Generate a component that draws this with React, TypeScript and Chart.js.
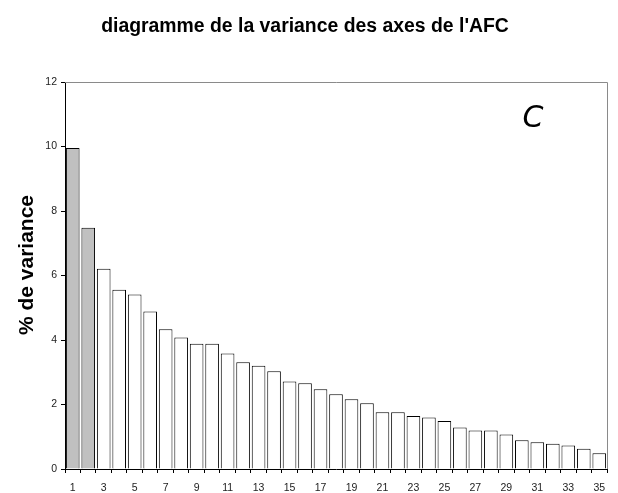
import React, { useEffect, useRef } from 'react';
import { Chart, registerables } from 'chart.js';

Chart.register(...registerables);

const axesLabels = [
  '1', '2', '3', '4', '5', '6', '7', '8', '9', '10',
  '11', '12', '13', '14', '15', '16', '17', '18', '19', '20',
  '21', '22', '23', '24', '25', '26', '27', '28', '29', '30',
  '31', '32', '33', '34', '35',
];

const varianceValues = [
  9.95, 7.48, 6.21, 5.56, 5.41, 4.88, 4.33, 4.08, 3.88, 3.88,
  3.58, 3.31, 3.2, 3.03, 2.71, 2.66, 2.47, 2.32, 2.16, 2.04,
  1.76, 1.76, 1.64, 1.6, 1.49, 1.29, 1.19, 1.19, 1.07, 0.89,
  0.83, 0.78, 0.73, 0.63, 0.49,
];

const retainedAxes = [true, true];

const chartTitle = "diagramme de la variance des axes de l'AFC";
const yAxisTitle = '% de variance';
const panelLetter = 'C';

const decorPlugin = {
  id: 'decor',
  beforeDatasetsDraw(chart: any) {
    const { ctx, chartArea: a } = chart;
    ctx.save();
    ctx.strokeStyle = '#8a8a8a';
    ctx.lineWidth = 1;
    ctx.beginPath();
    ctx.moveTo(a.left, Math.round(a.top) + 0.5);
    ctx.lineTo(Math.round(a.right) + 0.5, Math.round(a.top) + 0.5);
    ctx.lineTo(Math.round(a.right) + 0.5, a.bottom);
    ctx.stroke();
    ctx.restore();
  },
  afterDraw(chart: any) {
    const { ctx } = chart;
    ctx.save();
    ctx.fillStyle = '#000';
    ctx.textAlign = 'center';
    ctx.textBaseline = 'alphabetic';
    ctx.font = 'bold 19.4px "Liberation Sans", Arial, sans-serif';
    ctx.fillText(chartTitle, 305, 32);

    ctx.save();
    ctx.translate(33, 265);
    ctx.rotate(-Math.PI / 2);
    ctx.font = 'bold 21px "Liberation Sans", Arial, sans-serif';
    ctx.fillText(yAxisTitle, 0, 0);
    ctx.restore();

    ctx.font = 'italic 30px "DejaVu Sans", sans-serif';
    ctx.textBaseline = 'middle';
    ctx.fillText(panelLetter, 533, 119);
    ctx.restore();
  },
};

export default function App() {
  const canvasRef = useRef<HTMLCanvasElement | null>(null);

  useEffect(() => {
    const canvas = canvasRef.current;
    if (!canvas) return;
    const chart = new Chart(canvas, {
      type: 'bar',
      data: {
        labels: axesLabels,
        datasets: [
          {
            data: varianceValues,
            backgroundColor: varianceValues.map((_, i) => (retainedAxes[i] ? '#c0c0c0' : '#ffffff')),
            borderColor: '#000000',
            borderWidth: 1,
            barPercentage: 0.88,
            categoryPercentage: 1,
          },
        ],
      },
      options: {
        responsive: false,
        animation: false,
        layout: { padding: { top: 82, right: 11, left: 0, bottom: 0 } },
        plugins: {
          legend: { display: false },
          title: { display: false },
          tooltip: { enabled: false },
        },
        scales: {
          x: {
            afterFit: (s: any) => { s.height = 24; },
            grid: {
              offset: true,
              drawOnChartArea: false,
              drawTicks: true,
              tickLength: 4,
              color: '#000',
            },
            border: { color: '#000', width: 1 },
            ticks: {
              autoSkip: false,
              maxRotation: 0,
              padding: 9,
              color: '#222',
              font: { family: '"Liberation Sans", Arial, sans-serif', size: 10.5 },
              callback: (_v: any, i: number) => (i % 2 === 0 ? axesLabels[i] : ''),
            },
          },
          y: {
            min: 0,
            max: 12,
            afterFit: (s: any) => { s.width = 65; },
            grid: {
              drawOnChartArea: false,
              drawTicks: true,
              tickLength: 4,
              color: '#000',
            },
            border: { color: '#000', width: 1 },
            ticks: {
              stepSize: 2,
              padding: 4,
              color: '#222',
              font: { family: '"Liberation Sans", Arial, sans-serif', size: 10.5 },
            },
          },
        },
      },
      plugins: [decorPlugin],
    });
    return () => chart.destroy();
  }, []);

  return (
    <div style={{ position: 'absolute', left: 0, top: 0, width: 618, height: 493, background: '#fff' }}>
      <canvas ref={canvasRef} width={618} height={493} style={{ display: 'block' }} />
    </div>
  );
}
